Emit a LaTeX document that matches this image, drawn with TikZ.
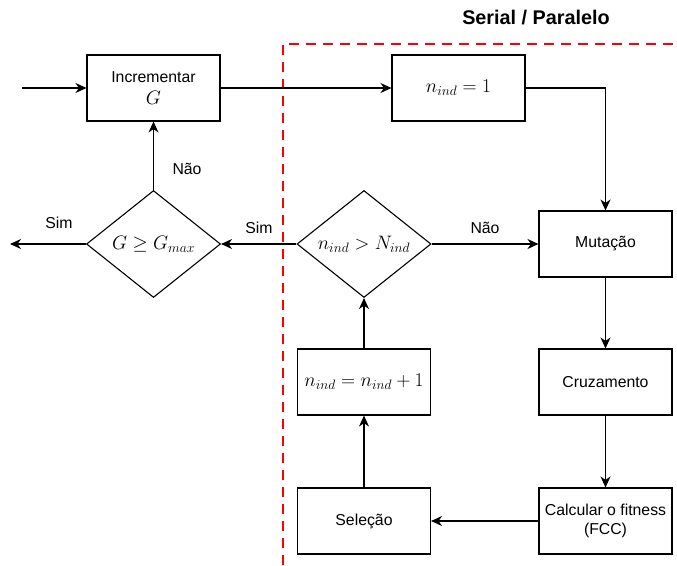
\RequirePackage{fix-cm}
\documentclass[tikz,border=0pt]{standalone}
\usepackage{fontspec}
\setmainfont{Liberation Sans}
\usetikzlibrary{shapes.geometric,arrows.meta}
% formulas are set larger than the surrounding labels
\newcommand\bigmath[1]{{\fontsize{19.5}{22}\selectfont$#1$}}
\begin{document}
\begin{tikzpicture}[x=1pt,y=-1pt,
  every node/.style={font=\fontsize{15.8}{18.5}\selectfont},
  stepbox/.style={draw,line width=1.1pt,minimum width=133pt,minimum height=66pt,inner sep=2pt,align=center},
  decision/.style={draw,diamond,line width=1.1pt,minimum width=134pt,minimum height=107pt,aspect=1.25,inner sep=0pt},
  flow/.style={line width=1.1pt,-{Stealth[length=11pt,width=10pt,inset=3.5pt]}},
  lbl/.style={font=\fontsize{15.8}{18.5}\selectfont}]
\useasboundingbox (0,0) rectangle (677,565);

% parallel region boundary
\draw[red,line width=2.6pt,dash pattern=on 10pt off 7pt] (283,565) -- (283,44) -- (677,44);
\node[font=\fontsize{19.8}{24}\selectfont\bfseries] (title) at (536,18) {Serial / Paralelo};

% blocks
\node[stepbox] (inc) at (153.5,88) {Incrementar\\[3pt]\bigmath{G}};
\node[stepbox] (n1) at (458.5,88) {\bigmath{n_{ind}=1}};
\node[stepbox] (mut) at (605.5,244) {Mutação};
\node[stepbox] (cruz) at (605.5,382) {Cruzamento};
\node[stepbox] (fit) at (605.5,521) {Calcular o fitness\\(FCC)};
\node[stepbox] (sel) at (364,521) {Seleção};
\node[stepbox,inner sep=0pt] (ninc) at (364,382) {\bigmath{n_{ind}=n_{ind}+1}};
\node[decision] (dn) at (364,244) {\bigmath{n_{ind}>N_{ind}}};
\node[decision] (dg) at (153.5,244) {\bigmath{G\geq G_{max}}};

\coordinate (start) at (22,88);
\coordinate (stop) at (10,244);

% connectors
\draw[flow] (start) -- (inc.west);
\draw[flow] (inc.east) -- (n1.west);
\draw[flow] (n1.east) -| (mut.north);
\draw[flow] (mut.south) -- (cruz.north);
\draw[flow] (cruz.south) -- (fit.north);
\draw[flow] (fit.west) -- (sel.east);
\draw[flow] (sel.north) -- (ninc.south);
\draw[flow] (ninc.north) -- (dn.south);
\draw[flow] (dn.east) -- (mut.west);
\draw[flow] (dn.west) -- (dg.east);
\draw[flow] (dg.north) -- (inc.south);
\draw[flow] (dg.west) -- (stop);

% branch labels
\node[lbl] (l1) at (485,228) {Não};
\node[lbl] (l2) at (259,228) {Sim};
\node[lbl] (l3) at (59,223) {Sim};
\node[lbl] (l4) at (187,169) {Não};
\end{tikzpicture}
\end{document}
